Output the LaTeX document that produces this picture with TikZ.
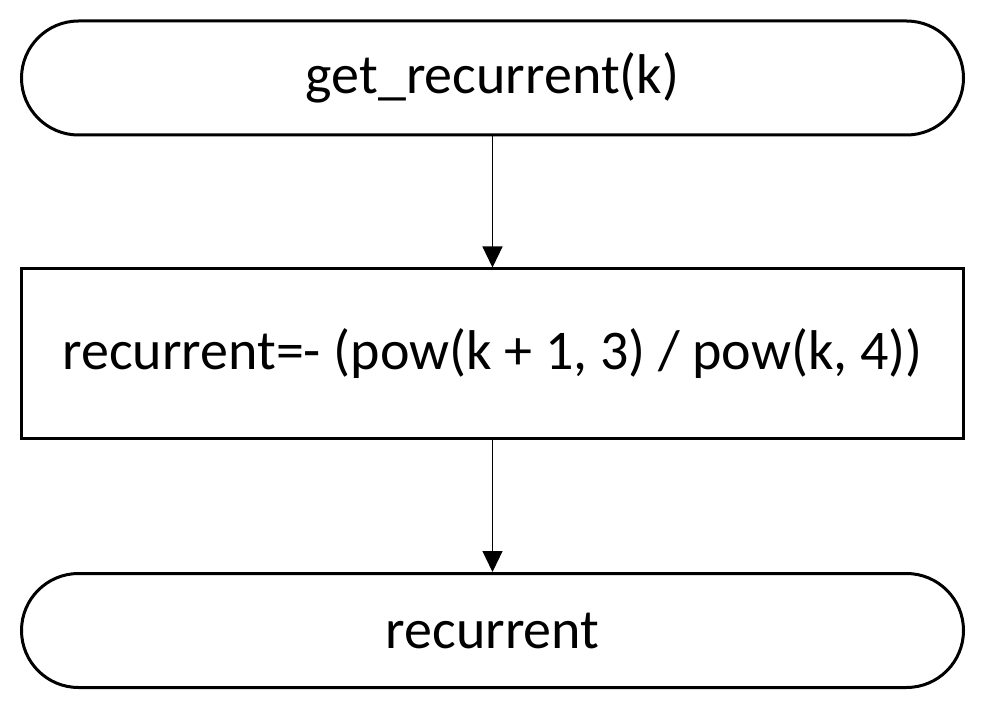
\documentclass[tikz,border=0pt]{standalone}
\usepackage{fontspec}
\setmainfont{Carlito}
\usetikzlibrary{arrows.meta}
\begin{document}
\begin{tikzpicture}[x=1pt,y=-1pt,
  term/.style={draw=black,line width=3pt,rounded corners=57pt,minimum width=942pt,minimum height=114pt,inner sep=0pt,font=\fontsize{56}{67}\selectfont},
  proc/.style={draw=black,line width=3pt,minimum width=942pt,minimum height=169pt,inner sep=0pt,font=\fontsize{56}{67}\selectfont},
  flow/.style={draw=black,line width=1.2pt,-{Triangle[width=20pt,length=21pt]}}]
\useasboundingbox (0,0) rectangle (985,711);
\node[term] (start) at (492.5,78) {get\_recurrent(k)};
\node[proc] (calc) at (492.5,353.5) {recurrent=- (pow(k + 1, 3) / pow(k, 4))};
\node[term] (stop) at (492.5,630.5) {recurrent};
\draw[flow] (start) -- (calc);
\draw[flow] (calc) -- (stop);
\end{tikzpicture}
\end{document}
